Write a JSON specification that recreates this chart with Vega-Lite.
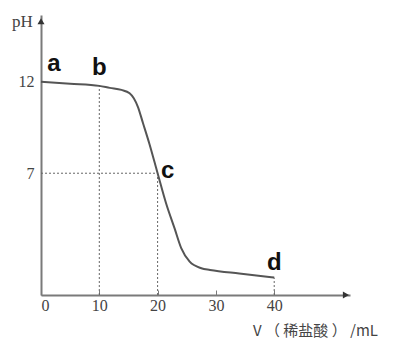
{
  "$schema": "https://vega.github.io/schema/vega-lite/v6.json",
  "autosize": "none",
  "width": 309,
  "height": 280,
  "padding": {"left": 41, "top": 15, "right": 43, "bottom": 43},
  "background": "white",
  "config": {"view": {"stroke": null}},
  "datasets": {
    "curve": [
      {"v": 0, "ph": 12},
      {"v": 5, "ph": 11.89},
      {"v": 10, "ph": 11.77},
      {"v": 11.8, "ph": 11.66},
      {"v": 13.8, "ph": 11.55},
      {"v": 15.2, "ph": 11.37},
      {"v": 16.6, "ph": 10.64},
      {"v": 17.5, "ph": 9.73},
      {"v": 18.6, "ph": 8.6},
      {"v": 20, "ph": 7},
      {"v": 21.45, "ph": 5.36},
      {"v": 22.9, "ph": 4.0},
      {"v": 24.05, "ph": 2.91},
      {"v": 25.5, "ph": 2.17},
      {"v": 27.5, "ph": 1.81},
      {"v": 29, "ph": 1.72},
      {"v": 34, "ph": 1.52},
      {"v": 40, "ph": 1.3}
    ],
    "guides": [
      {"x1": 10, "x2": 10, "y1": 0.35, "y2": 11.77},
      {"x1": 20, "x2": 20, "y1": 0.35, "y2": 7},
      {"x1": 40, "x2": 40, "y1": 0.35, "y2": 1.3},
      {"x1": 0, "x2": 20, "y1": 7, "y2": 7}
    ],
    "points": [
      {"v": 0, "ph": 12, "label": "a"},
      {"v": 10, "ph": 11.77, "label": "b"},
      {"v": 20, "ph": 7, "label": "c"},
      {"v": 40, "ph": 1.3, "label": "d"}
    ],
    "arrows": [
      {"v": 52.3, "ph": 0.35, "shape": "triangle-right"},
      {"v": 0, "ph": 15.3, "shape": "triangle-up"}
    ]
  },
  "layer": [
    {
      "data": {"name": "guides"},
      "mark": {"type": "rule", "strokeDash": [2, 2], "color": "#666", "strokeWidth": 1},
      "encoding": {
        "x": {"field": "x1", "type": "quantitative", "scale": {"domain": [0, 53], "nice": false, "zero": false},
          "axis": {"title": "V （ 稀盐酸 ） /mL", "values": [0, 10, 20, 30, 40], "grid": false,
            "domainColor": "#7a7a7a", "domainWidth": 2, "tickColor": "#7a7a7a", "tickSize": -5, "tickWidth": 1,
            "labelFont": "Liberation Serif", "labelFontSize": 16, "labelColor": "#444", "labelPadding": 7,
            "titleFont": "Noto Sans CJK SC", "titleFontSize": 15, "titleFontWeight": "normal", "titleColor": "#444",
            "titleX": 274, "titleY": 35, "titleAlign": "center", "titleBaseline": "middle", "titleAnchor": null}},
        "x2": {"field": "x2"},
        "y": {"field": "y1", "type": "quantitative", "scale": {"domain": [0.35, 15.64], "nice": false, "zero": false},
          "axis": {"title": "pH", "values": [7, 12], "grid": false, "ticks": false,
            "domainColor": "#7a7a7a", "domainWidth": 2,
            "labelFont": "Liberation Serif", "labelFontSize": 16, "labelColor": "#444", "labelPadding": 7,
            "titleFont": "Liberation Serif", "titleFontSize": 17, "titleFontWeight": "normal", "titleColor": "#444",
            "titleAngle": 0, "titleX": -19, "titleY": 6, "titleAlign": "center", "titleBaseline": "middle"}},
        "y2": {"field": "y2"}
      }
    },
    {
      "data": {"name": "curve"},
      "mark": {"type": "line", "interpolate": "monotone", "color": "#555", "strokeWidth": 2},
      "encoding": {
        "x": {"field": "v", "type": "quantitative"},
        "y": {"field": "ph", "type": "quantitative"}
      }
    },
    {
      "data": {"name": "points"},
      "transform": [{"filter": "datum.label === 'a'"}],
      "mark": {"type": "text", "font": "Liberation Sans", "fontSize": 24, "fontWeight": "bold", "color": "#111", "baseline": "middle", "align": "center", "dx": 13, "dy": -18},
      "encoding": {
        "x": {"field": "v", "type": "quantitative"},
        "y": {"field": "ph", "type": "quantitative"},
        "text": {"field": "label"}
      }
    },
    {
      "data": {"name": "points"},
      "transform": [{"filter": "datum.label === 'b'"}],
      "mark": {"type": "text", "font": "Liberation Sans", "fontSize": 24, "fontWeight": "bold", "color": "#111", "baseline": "middle", "align": "center", "dx": 0, "dy": -18},
      "encoding": {
        "x": {"field": "v", "type": "quantitative"},
        "y": {"field": "ph", "type": "quantitative"},
        "text": {"field": "label"}
      }
    },
    {
      "data": {"name": "points"},
      "transform": [{"filter": "datum.label === 'c'"}],
      "mark": {"type": "text", "font": "Liberation Sans", "fontSize": 24, "fontWeight": "bold", "color": "#111", "baseline": "middle", "align": "center", "dx": 10, "dy": -2},
      "encoding": {
        "x": {"field": "v", "type": "quantitative"},
        "y": {"field": "ph", "type": "quantitative"},
        "text": {"field": "label"}
      }
    },
    {
      "data": {"name": "points"},
      "transform": [{"filter": "datum.label === 'd'"}],
      "mark": {"type": "text", "font": "Liberation Sans", "fontSize": 24, "fontWeight": "bold", "color": "#111", "baseline": "middle", "align": "center", "dx": 0, "dy": -15},
      "encoding": {
        "x": {"field": "v", "type": "quantitative"},
        "y": {"field": "ph", "type": "quantitative"},
        "text": {"field": "label"}
      }
    },
    {
      "data": {"name": "arrows"},
      "mark": {"type": "point", "filled": true, "color": "#333", "size": 50, "opacity": 1},
      "encoding": {
        "x": {"field": "v", "type": "quantitative"},
        "y": {"field": "ph", "type": "quantitative"},
        "shape": {"field": "shape", "type": "nominal", "scale": null}
      }
    }
  ]
}
